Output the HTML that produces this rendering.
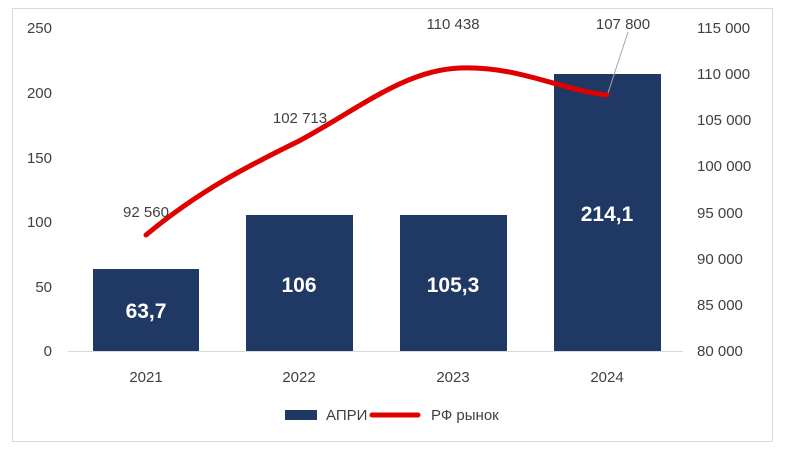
<!DOCTYPE html>
<html><head><meta charset="utf-8"><style>
body{margin:0;background:#fff;}
svg{display:block;font-family:"Liberation Sans",Arial,sans-serif;}
</style></head><body>
<svg width="786" height="454" viewBox="0 0 786 454">
<rect x="12.5" y="8.5" width="760" height="433" fill="#fff" stroke="#d9d9d9"/>
<line x1="68" y1="351.5" x2="683" y2="351.5" stroke="#d9d9d9"/>
<g font-size="15" fill="#404040" text-anchor="end">
<text x="52" y="356">0</text><text x="52" y="292">50</text><text x="52" y="227">100</text>
<text x="52" y="163">150</text><text x="52" y="98">200</text><text x="52" y="33">250</text>
</g>
<g font-size="15" fill="#404040" text-anchor="start">
<text x="697" y="356">80 000</text><text x="697" y="310">85 000</text><text x="697" y="264">90 000</text>
<text x="697" y="218">95 000</text><text x="697" y="171">100 000</text><text x="697" y="125">105 000</text>
<text x="697" y="79">110 000</text><text x="697" y="33">115 000</text>
</g>
<g fill="#1f3864">
<rect x="93" y="269" width="106" height="82"/>
<rect x="246" y="215" width="107" height="136"/>
<rect x="400" y="215" width="107" height="136"/>
<rect x="554" y="74" width="107" height="277"/>
</g>
<g font-size="21" font-weight="bold" fill="#fff" text-anchor="middle">
<text x="146" y="318">63,7</text><text x="299" y="292">106</text>
<text x="453" y="292">105,3</text><text x="607" y="221">214,1</text>
</g>
<g font-size="15" fill="#404040" text-anchor="middle">
<text x="146" y="382">2021</text><text x="299" y="382">2022</text>
<text x="453" y="382">2023</text><text x="607" y="382">2024</text>
</g>
<path d="M146 235 C200 190 250 165 299 141 C360 108 405 70 460 68 C520 66 560 90 607 95" fill="none" stroke="#e00000" stroke-width="5" stroke-linecap="round"/>
<line x1="628" y1="32" x2="608" y2="93" stroke="#a6a6a6"/>
<g font-size="15" fill="#404040" text-anchor="middle">
<text x="146" y="217">92 560</text><text x="300" y="123">102 713</text>
<text x="453" y="29">110 438</text><text x="623" y="29">107 800</text>
</g>
<rect x="285" y="410" width="32" height="10" fill="#1f3864"/>
<text x="326" y="420" font-size="15" fill="#404040">АПРИ</text>
<line x1="372" y1="415" x2="418" y2="415" stroke="#e00000" stroke-width="5" stroke-linecap="round"/>
<text x="431" y="420" font-size="15" fill="#404040">РФ рынок</text>
</svg>
</body></html>
